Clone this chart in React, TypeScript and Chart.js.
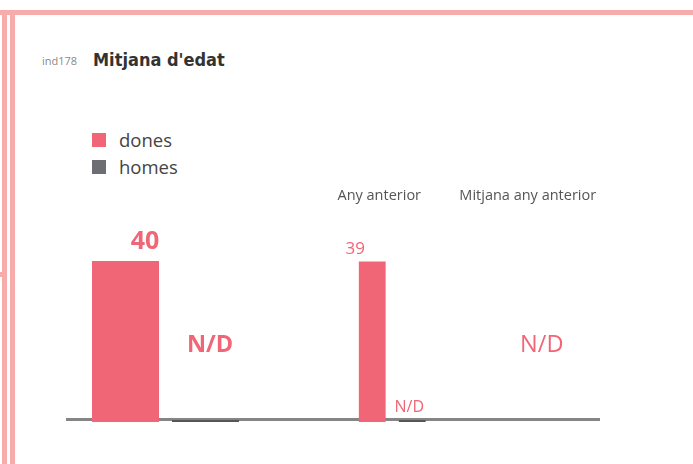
import React, { useEffect, useRef } from 'react';
import { Chart, registerables } from 'chart.js';

Chart.register(...registerables);

// ---------- data ----------
const indicatorCode = 'ind178';
const chartTitle = "Mitjana d'edat";
const seriesNames = ['dones', 'homes'];
const missingText = 'N/D';

// current value
const currentLabels = [''];
const currentDones: (number | null)[] = [40];
const currentHomes: (number | null)[] = [null];

// comparison values
const compareLabels = ['Any anterior', 'Mitjana any anterior'];
const compareDones: (number | null)[] = [39, null];
const compareHomes: (number | null)[] = [null, null];

// ---------- styles ----------
const PINK = '#f06677';
const GREY = '#6d6e73';
const HOMES_LINE = '#55565a';
const AXIS_GREY = '#858585';
const FRAME = '#f7abab';
const FONT = "'Open Sans', 'Noto Sans', sans-serif";
const COND = "'DejaVu Sans Condensed', 'DejaVu Sans', sans-serif";
const seriesColors = [PINK, GREY];
const HEADROOM = 1.33;

type LabelStyle = {
  valueFont: string;
  valueDx: number;
  valueGap: number;
  homesFont: string;
  homesMid: boolean;
  homesDx: number;
  homesGap: number;
  rowFont: string;
  rowDx: number;
};

function labelsPlugin(dones: (number | null)[], homes: (number | null)[], st: LabelStyle) {
  return {
    id: 'valueLabels',
    beforeDatasetsDraw(chart: any) {
      const ctx = chart.ctx;
      const y = chart.scales.y.getPixelForValue(0) - 2.5;
      ctx.save();
      ctx.strokeStyle = AXIS_GREY;
      ctx.lineWidth = 3;
      ctx.beginPath();
      ctx.moveTo(0, y);
      ctx.lineTo(chart.width, y);
      ctx.stroke();
      ctx.restore();
    },
    afterDatasetsDraw(chart: any) {
      const ctx = chart.ctx;
      const dMeta = chart.getDatasetMeta(0);
      const hMeta = chart.getDatasetMeta(1);
      const yScale = chart.scales.y;
      const xScale = chart.scales.x;
      const base = yScale.getPixelForValue(0);
      const maxVal = Math.max(...dones.filter((v): v is number => v != null));
      const mid = (yScale.getPixelForValue(maxVal) + base) / 2 + 4;
      ctx.save();
      ctx.fillStyle = PINK;
      dones.forEach((d, i) => {
        const h = homes[i];
        if (d == null && h == null) {
          ctx.font = st.rowFont;
          ctx.textAlign = 'center';
          ctx.textBaseline = 'middle';
          ctx.fillText(missingText, xScale.getPixelForTick(i) + st.rowDx, mid);
          return;
        }
        if (d != null) {
          const bar = dMeta.data[i];
          ctx.font = st.valueFont;
          ctx.textAlign = 'center';
          ctx.textBaseline = 'alphabetic';
          ctx.fillText(String(d), bar.x + st.valueDx, bar.y - st.valueGap);
        }
        const hBar = hMeta.data[i];
        if (h == null) {
          ctx.font = st.homesFont;
          ctx.textAlign = 'center';
          if (st.homesMid) {
            ctx.textBaseline = 'middle';
            ctx.fillText(missingText, hBar.x + st.homesDx, mid);
          } else {
            ctx.textBaseline = 'alphabetic';
            ctx.fillText(missingText, hBar.x + st.homesDx, base - st.homesGap);
          }
        } else {
          ctx.font = st.valueFont;
          ctx.textAlign = 'center';
          ctx.textBaseline = 'alphabetic';
          ctx.fillText(String(h), hBar.x + st.valueDx, hBar.y - st.valueGap);
        }
      });
      ctx.restore();
    },
  };
}

function buildConfig(
  labels: string[],
  dones: (number | null)[],
  homes: (number | null)[],
  opts: {
    catPct: number;
    barPct: number;
    padding: any;
    showLabels: boolean;
    style: LabelStyle;
  }
) {
  const homesDraw = homes.map((h, i) => (h == null ? (dones[i] != null ? 0 : null) : h));
  const maxVal = Math.max(...[...dones, ...homes].filter((v): v is number => v != null));
  return {
    type: 'bar' as const,
    data: {
      labels,
      datasets: [
        {
          label: seriesNames[0],
          data: dones,
          backgroundColor: seriesColors[0],
          categoryPercentage: opts.catPct,
          barPercentage: opts.barPct,
        },
        {
          label: seriesNames[1],
          data: homesDraw,
          backgroundColor: HOMES_LINE,
          categoryPercentage: opts.catPct,
          barPercentage: opts.barPct,
          minBarLength: 2,
        },
      ],
    },
    options: {
      animation: false,
      responsive: false,
      maintainAspectRatio: false,
      layout: { padding: opts.padding },
      plugins: { legend: { display: false }, tooltip: { enabled: false } },
      scales: {
        x: opts.showLabels
          ? {
              position: 'top',
              grid: { display: false, drawTicks: false },
              border: { display: false },
              ticks: {
                padding: 4,
                labelOffset: -13,
                autoSkip: false,
                maxRotation: 0,
                color: '#555',
                font: { family: FONT, size: 14.5 },
              },
            }
          : { display: false },
        y: { display: false, min: 0, max: maxVal * HEADROOM },
      },
    },
    plugins: [labelsPlugin(dones, homes, opts.style)],
  };
}

function ChartCanvas(props: {
  config: any;
  left: number;
  top: number;
  width: number;
  height: number;
  clipWidth: number;
}) {
  const ref = useRef<HTMLCanvasElement | null>(null);
  useEffect(() => {
    if (!ref.current) return;
    const chart = new Chart(ref.current, props.config);
    return () => chart.destroy();
  }, []);
  return (
    <div
      style={{
        position: 'absolute',
        left: props.left,
        top: props.top,
        width: props.clipWidth,
        height: props.height,
        overflow: 'hidden',
      }}
    >
      <canvas
        ref={ref}
        width={props.width}
        height={props.height}
        style={{ position: 'absolute', left: 0, top: 0, width: props.width, height: props.height }}
      />
    </div>
  );
}

export default function App() {
  const currentConfig = buildConfig(currentLabels, currentDones, currentHomes, {
    catPct: 0.804,
    barPct: 0.8375,
    padding: { top: 28, bottom: 8, left: 0, right: 35 },
    showLabels: false,
    style: {
      valueFont: `bold 25px ${FONT}`,
      valueDx: 19.5,
      valueGap: 12,
      homesFont: `bold 23.5px ${FONT}`,
      homesMid: true,
      homesDx: 4.5,
      homesGap: 10,
      rowFont: `bold 23.5px ${FONT}`,
      rowDx: 0,
    },
  });
  const compareConfig = buildConfig(compareLabels, compareDones, compareHomes, {
    catPct: 0.539,
    barPct: 0.67,
    padding: { top: 63.2, bottom: 8, left: 18, right: 0 },
    showLabels: true,
    style: {
      valueFont: `17px ${FONT}`,
      valueDx: -17,
      valueGap: 8,
      homesFont: `16px ${FONT}`,
      homesMid: false,
      homesDx: -3,
      homesGap: 10,
      rowFont: `23.5px ${FONT}`,
      rowDx: 1,
    },
  });

  return (
    <div
      style={{
        position: 'fixed',
        left: 0,
        top: 0,
        width: 693,
        height: 464,
        background: '#fff',
        overflow: 'hidden',
        fontFamily: FONT,
      }}
    >
      <div style={{ position: 'absolute', left: 0, top: 10, width: 693, height: 5, background: FRAME }} />
      <div style={{ position: 'absolute', left: 2, top: 10, width: 5, height: 454, background: FRAME }} />
      <div style={{ position: 'absolute', left: 10, top: 10, width: 5, height: 454, background: FRAME }} />
      <div style={{ position: 'absolute', left: 0, top: 272, width: 7, height: 5, background: FRAME }} />

      <div style={{ position: 'absolute', left: 42, top: 53, fontSize: 11, color: '#8a8a8a', lineHeight: '16px' }}>
        {indicatorCode}
      </div>
      <div
        style={{
          position: 'absolute',
          left: 93,
          top: 49,
          fontSize: 18,
          fontWeight: 'bold',
          color: '#333',
          fontFamily: COND,
          fontStretch: 'condensed',
          lineHeight: '22px',
        }}
      >
        {chartTitle}
      </div>

      {seriesNames.map((name, i) => (
        <div key={name} style={{ position: 'absolute', left: 92, top: 128 + i * 26.5, height: 24 }}>
          <div
            style={{ position: 'absolute', left: 0, top: 5, width: 14, height: 14, background: seriesColors[i] }}
          />
          <div
            style={{
              position: 'absolute',
              left: 27,
              top: 0,
              fontSize: 18.5,
              lineHeight: '24px',
              color: '#444',
              whiteSpace: 'nowrap',
            }}
          >
            {name}
          </div>
        </div>
      ))}

      <ChartCanvas config={currentConfig} left={66} top={180} width={234} height={250} clipWidth={234} />
      <ChartCanvas config={compareConfig} left={300} top={120} width={315} height={310} clipWidth={300} />
    </div>
  );
}
